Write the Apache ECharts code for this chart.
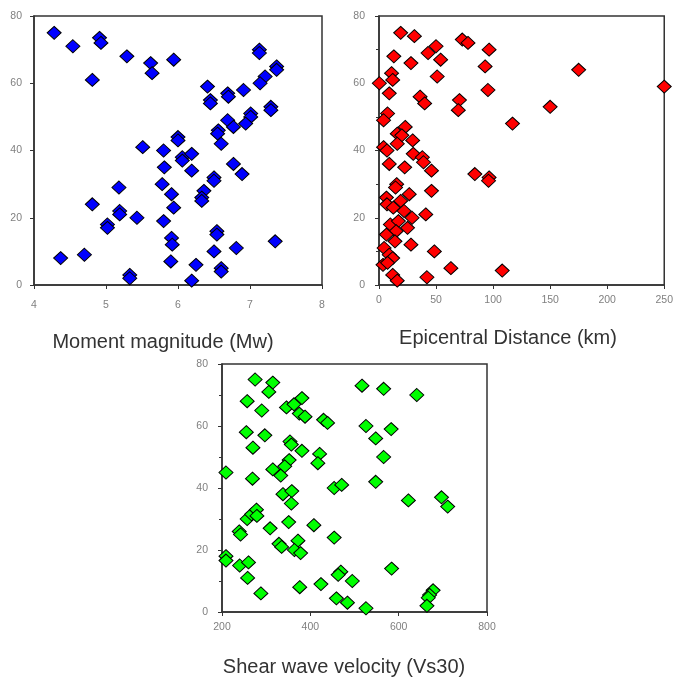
<!DOCTYPE html>
<html>
<head>
<meta charset="utf-8">
<script src="https://cdn.jsdelivr.net/npm/echarts@6/dist/echarts.min.js"></script>
<style>html,body{margin:0;padding:0;background:#fff}#c{width:676px;height:677px}</style>
</head>
<body>
<div id="c"></div>
<script>
// ---- data ----
const magnitudePoints = [[4.28,75],[4.54,71],[4.91,73.5],[4.93,72],[5.29,68],[5.62,66],[5.64,63],[5.94,67],[4.81,61],[7.13,70],[7.13,69],[7.37,65],[7.37,64],[7.21,62],[7.14,60],[6.41,59],[6.69,57],[6.70,56],[6.91,58],[6.45,55],[6.45,54],[7.29,53],[7.29,52],[6.69,49],[6.77,47],[7.01,51],[7.01,50],[6.94,48],[6.56,46],[6.55,45],[6.60,42],[6.0,44],[6.0,43],[5.51,41],[5.80,40],[6.06,38],[6.06,37],[6.19,39],[5.81,35],[6.19,34],[6.77,36],[6.89,33],[6.50,32],[6.50,31],[5.18,29],[5.78,30],[5.91,27],[6.36,28],[6.33,26],[6.33,25],[4.81,24],[5.94,23],[5.19,22],[5.19,21],[5.43,20],[5.80,19],[5.02,18],[5.02,17],[6.54,16],[6.54,15],[5.91,14],[5.92,12],[7.35,13],[4.37,8],[4.70,9],[6.50,10],[6.81,11],[5.90,7],[6.25,6],[6.60,5],[6.60,4],[5.33,3],[5.33,2],[6.19,1.3]];
const distancePoints = [[19,75],[31,74],[73,73],[78,72],[96.5,70],[13,68],[28,66],[43,69],[50,71],[54,67],[93,65],[175,64],[11,63],[12,61],[0.3,60],[51,62],[9,57],[36,56],[40,54],[70.5,55],[69.5,52],[95.5,58],[250,59],[150,53],[117,48],[7.5,51],[4,49],[23,47],[16,45],[20,44.5],[16,42],[29.5,43],[4,41],[7,40],[30,39],[38,38],[39,36.5],[9,36],[22.5,35],[46,34],[84,33],[96.5,32],[96,31],[15.5,30],[14.5,29],[26.5,27],[46,28],[6.5,26],[7,24],[12.5,23],[19,25],[22,22],[29,20],[41,21],[10,18],[17,19],[15,16],[25,17],[6.5,15],[14,13],[28,12],[4.5,11],[9,9],[12,8],[3.5,6],[7.5,6.6],[48.5,10],[63,5],[108,4.3],[12,3],[16,1.3],[42,2.3]];
const velocityPoints = [[275,75],[315,74],[306,71],[257,68],[290,65],[346,66],[363,67],[381,69],[375,64],[388,63],[430,62],[439,61],[517,73],[566,72],[641,70],[255,58],[297,57],[526,60],[583,59],[548,56],[354,55],[357,54],[381,52],[421,51],[417,48],[566,50],[270,53],[352,49],[342,47],[315,46],[333,44],[209,45],[269,43],[454,40],[471,41],[548,42],[338,38],[358,39],[357,35],[622,36],[697,37],[711,34],[257,30],[267,31.5],[278,33],[279,31],[351,29],[408,28],[309,27],[239,26],[242,25],[454,24],[329,22],[335,21],[372,23],[364,20],[378,19],[209,18],[209,16.6],[240,15],[260,16],[258,11],[469,13],[463,12],[495,10],[584,14],[288,6],[376,8],[424,9],[459,4.4],[484,3],[526,1.2],[678,7],[670,5.5],[667,4.6],[664,2]];
const axisTitles = ['Moment magnitude (Mw)', 'Epicentral Distance (km)', 'Shear wave velocity (Vs30)'];
const xRanges = [[4,8,1],[0,250,50],[200,800,200]];
const yRange = [0,80,20];

const chart = echarts.init(document.getElementById('c'), null, {renderer:'canvas'});
const font = 'Arial, "Liberation Sans", sans-serif';
const grids = [
  {left:34, top:16, width:288, height:269},
  {left:379, top:16, width:288, height:269},
  {left:222, top:364, width:265, height:248}
];
const xMargins = [15, 10, 10];
const yMargins = [12, 14, 14];
const yMinor = [false, true, true];
function axisCommon(){
  return {
    axisLine:{show:true, onZero:false, lineStyle:{color:'#333', width:1.5}},
    axisTick:{show:true, inside:false, length:4, lineStyle:{color:'#333', width:1}},
    splitLine:{show:false},
    axisLabel:{color:'#808080', fontSize:10.5, fontFamily:font}
  };
}
const xAxes = xRanges.map((r,i)=>{
  const a = axisCommon();
  a.type='value'; a.gridIndex=i; a.min=r[0]; a.max=r[1]; a.interval=r[2];
  a.axisLabel.margin = xMargins[i];
  return a;
});
const yAxes = [0,1,2].map(i=>{
  const a = axisCommon();
  a.type='value'; a.gridIndex=i; a.min=yRange[0]; a.max=yRange[1]; a.interval=yRange[2];
  a.axisLabel.margin = yMargins[i];
  a.minorTick = {show:yMinor[i], splitNumber:2, length:3, lineStyle:{color:'#333'}};
  return a;
});
const colors = ['#0000ff','#ff0000','#00ff00'];
const datasets = [magnitudePoints, distancePoints, velocityPoints];
const series = datasets.map((d,i)=>({
  type:'scatter', xAxisIndex:i, yAxisIndex:i, data:d,
  symbol:'diamond', symbolSize:[14,13],
  itemStyle:{color:colors[i], borderColor:'#000', borderWidth:1, opacity:1},
  emphasis:{disabled:true}, animation:false
}));
const titlePos = [[163,342],[508,338],[344,667]];
chart.setOption({
  animation:false,
  grid: grids.map(g=>Object.assign({show:true, borderColor:'#333', borderWidth:1.5, backgroundColor:'#fff', containLabel:false}, g)),
  xAxis: xAxes,
  yAxis: yAxes,
  series: series,
  graphic: axisTitles.map((t,i)=>({
    type:'text', x:titlePos[i][0], y:titlePos[i][1],
    style:{text:t, font:'20px '+font, fill:'#333', textAlign:'center', textVerticalAlign:'middle'}
  }))
});
</script>
</body>
</html>
